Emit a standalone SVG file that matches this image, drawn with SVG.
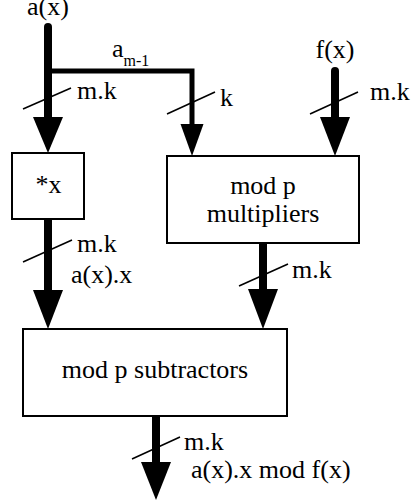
<svg xmlns="http://www.w3.org/2000/svg" width="412" height="504" viewBox="0 0 412 504">
<style>
text{font-family:"Liberation Serif","Times New Roman","DejaVu Serif",serif;font-size:26px;fill:#000}
.box{fill:#fff;stroke:#000;stroke-width:2}
.bus{fill:none;stroke:#000;stroke-width:8;stroke-linecap:round}
.br{fill:none;stroke:#000;stroke-width:5;stroke-linejoin:miter}
.sl{stroke:#000;stroke-width:1.6}
.ah{fill:#000}
.mid{text-anchor:middle}
</style>
<rect width="412" height="504" fill="#fff"/>
<g id="connectors">
  <line class="bus" x1="48" y1="27" x2="48" y2="120"/>
  <polygon class="ah" points="33,117 63,117 48,153"/>
  <path class="br" d="M48,71 H192 V126"/>
  <polygon class="ah" points="180.5,124 203.5,124 192,156"/>
  <line class="bus" x1="335" y1="71" x2="335" y2="120"/>
  <polygon class="ah" points="320,117 350,117 335,156"/>
  <line class="bus" x1="48" y1="217" x2="48" y2="293"/>
  <polygon class="ah" points="33,290 63,290 48,329"/>
  <line class="bus" x1="263" y1="241" x2="263" y2="292"/>
  <polygon class="ah" points="248,289 278,289 263,329"/>
  <line class="bus" x1="156" y1="414" x2="156" y2="465"/>
  <polygon class="ah" points="141,462 171,462 156,500"/>
  <line class="sl" x1="23" y1="109" x2="71" y2="88"/>
  <line class="sl" x1="167" y1="114" x2="215" y2="92"/>
  <line class="sl" x1="310" y1="114" x2="358" y2="92"/>
  <line class="sl" x1="23" y1="262" x2="72" y2="240"/>
  <line class="sl" x1="239" y1="286" x2="288" y2="264"/>
  <line class="sl" x1="132" y1="459" x2="180" y2="437"/>
  <text x="48" y="15" class="mid">a(x)</text>
  <text x="112" y="57">a<tspan font-size="16" dy="9">m-1</tspan></text>
  <text x="77" y="99">m.k</text>
  <text x="220" y="106">k</text>
  <text x="335" y="58" class="mid">f(x)</text>
  <text x="370" y="100">m.k</text>
  <text x="77" y="252">m.k</text>
  <text x="71" y="283">a(x).x</text>
  <text x="292" y="278">m.k</text>
  <text x="184" y="450">m.k</text>
  <text x="191" y="478">a(x).x mod f(x)</text>
</g>
<g id="node-shift">
  <rect class="box" x="12" y="153" width="72" height="66"/>
  <text x="48.5" y="193" class="mid">*x</text>
</g>
<g id="node-multipliers">
  <rect class="box" x="167" y="156" width="192" height="87"/>
  <text x="263" y="194" class="mid">mod p</text>
  <text x="263" y="222" class="mid">multipliers</text>
</g>
<g id="node-subtractors">
  <rect class="box" x="23" y="329" width="264" height="87"/>
  <text x="155" y="378" class="mid">mod p subtractors</text>
</g>
</svg>
